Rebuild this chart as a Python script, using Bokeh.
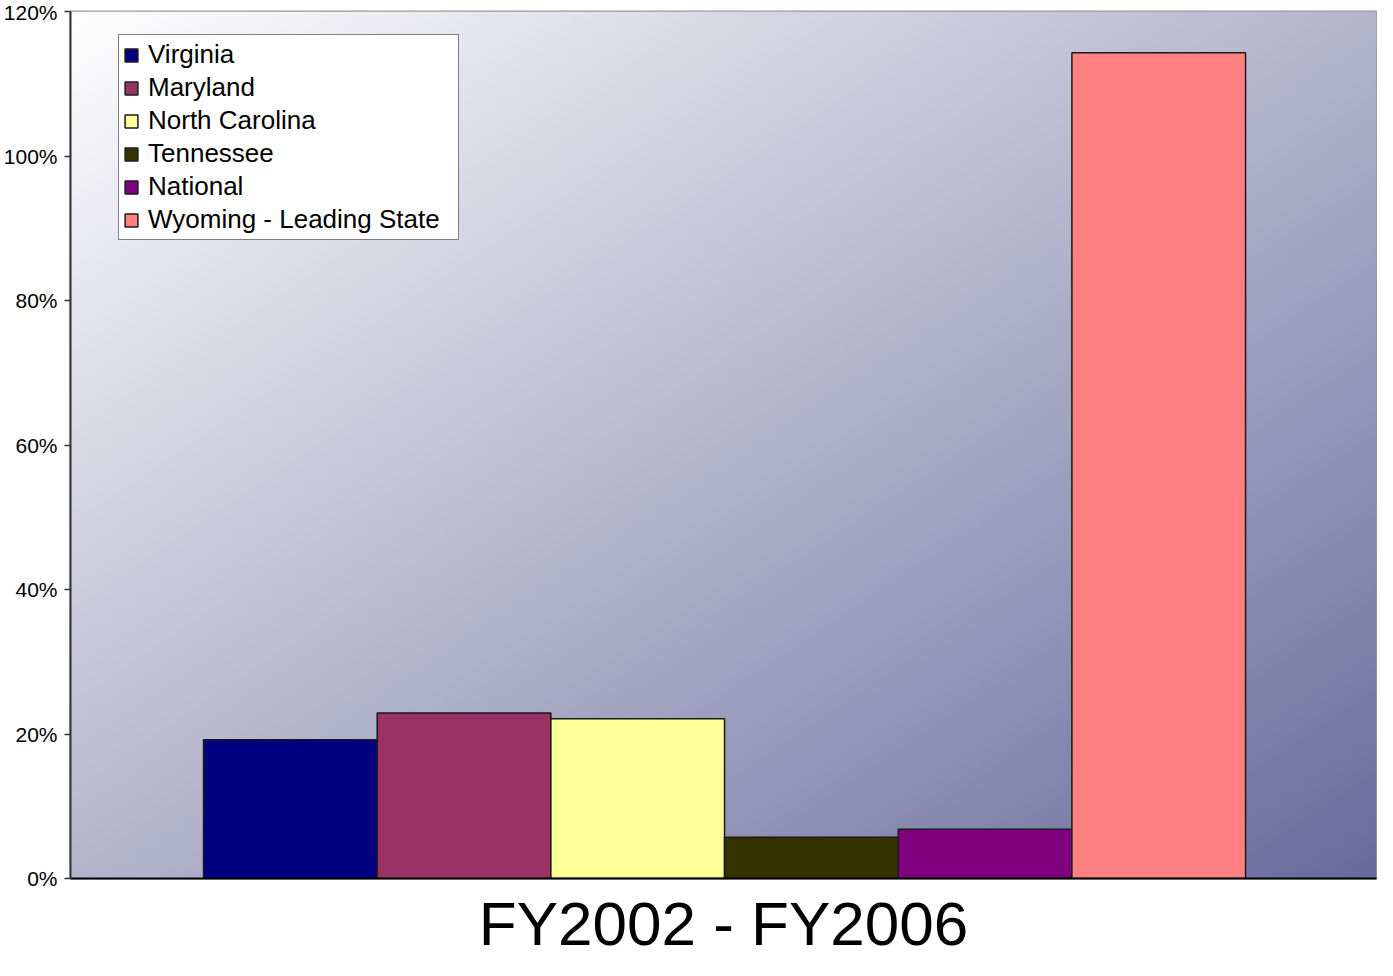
import numpy as np
from bokeh.plotting import figure
from bokeh.models import (ColumnDataSource, Range1d, FixedTicker, Legend,
                          LegendItem)
from bokeh.embed import file_html
from bokeh.resources import INLINE

# ---- data ----
states = ["Virginia", "Maryland", "North Carolina", "Tennessee", "National",
          "Wyoming - Leading State"]
growth = [19.2, 22.9, 22.1, 5.7, 6.8, 114.3]
colors = ["#000080", "#993366", "#FFFF99", "#333300", "#800080", "#FF8080"]
period_label = "FY2002 - FY2006"
y_ticks = [0, 20, 40, 60, 80, 100, 120]
y_tick_labels = ["0%", "20%", "40%", "60%", "80%", "100%", "120%"]

FONT = "Liberation Sans"

x_pos = list(range(len(states)))
src = ColumnDataSource(dict(x=x_pos, top=growth, color=colors, state=states))

x0, x1 = -1.266, len(states) - 1 + 1.254
y0, y1 = y_ticks[0], y_ticks[-1]
x_mid = (x0 + x1) / 2

p = figure(width=1377, height=960, output_backend="svg", toolbar_location=None,
           x_range=Range1d(x0, x1), y_range=Range1d(y0, y1),
           min_border_left=66, min_border_right=1, min_border_top=11,
           min_border_bottom=0)
p.background_fill_color = "white"
p.border_fill_color = "white"
p.outline_line_color = "#9a9a9a"
p.outline_line_width = 2
p.grid.visible = False

# diagonal gradient background (white top-left -> slate blue bottom-right)
nx, ny = 480, 320
xn = np.linspace(0, 1, nx)[None, :]
yn_top = np.linspace(1, 0, ny)[:, None]  # row 0 is at bottom
t = (xn + yn_top) / 2.0
start = np.array([255, 255, 255])
end = np.array([106, 107, 156])
r = (start[0] + (end[0] - start[0]) * t).astype(np.uint32)
g = (start[1] + (end[1] - start[1]) * t).astype(np.uint32)
b = (start[2] + (end[2] - start[2]) * t).astype(np.uint32)
img = (255 << 24) | (b << 16) | (g << 8) | r
p.image_rgba(image=[img.astype(np.uint32)], x=x0, y=y0, dw=x1 - x0, dh=y1 - y0)

bars = p.vbar(x="x", top="top", width=1.0, bottom=0, source=src,
              fill_color="color", line_color="#1a1a1a", line_width=1.5)

# y axis
p.yaxis.ticker = FixedTicker(ticks=y_ticks)
p.yaxis.major_label_overrides = {v: l for v, l in zip(y_ticks, y_tick_labels)}
p.yaxis.major_label_text_font = FONT
p.yaxis.major_label_text_font_size = "21px"
p.yaxis.major_label_text_color = "black"
p.yaxis.major_label_standoff = 7
p.yaxis.major_tick_out = 6
p.yaxis.major_tick_in = 0
p.yaxis.minor_tick_line_color = None
p.yaxis.axis_line_color = "#333333"
p.yaxis.axis_line_width = 2
p.yaxis.major_tick_line_color = "#333333"
p.yaxis.major_tick_line_width = 1.5

# x axis: base line plus the single category caption
p.xaxis.ticker = FixedTicker(ticks=[x_mid])
p.xaxis.major_label_overrides = {x_mid: period_label}
p.xaxis.major_label_text_font = FONT
p.xaxis.major_label_text_font_size = "62px"
p.xaxis.major_label_text_color = "black"
p.xaxis.major_label_standoff = 10
p.xaxis.major_tick_out = 0
p.xaxis.major_tick_in = 0
p.xaxis.major_tick_line_color = None
p.xaxis.minor_tick_line_color = None
p.xaxis.axis_line_color = "black"
p.xaxis.axis_line_width = 2

items = [LegendItem(label=s, renderers=[bars], index=i) for i, s in enumerate(states)]
legend = Legend(items=items, location=(48, 638))
legend.label_text_font = FONT
legend.label_text_font_size = "26px"
legend.label_text_color = "black"
legend.glyph_width = 16
legend.glyph_height = 16
legend.label_height = 30
legend.label_width = 306
legend.spacing = 2
legend.padding = 4
legend.margin = 0
legend.label_standoff = 9
legend.border_line_color = "black"
legend.border_line_width = 1
legend.background_fill_color = "white"
legend.background_fill_alpha = 1.0
p.add_layout(legend)

open("out.html", "w").write(file_html(p, INLINE))
